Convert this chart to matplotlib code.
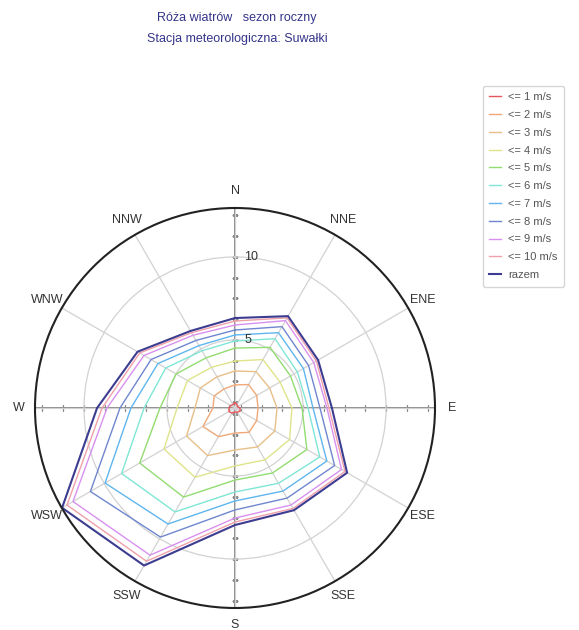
import numpy as np
import matplotlib.pyplot as plt

plt.rcParams['font.family'] = ['Liberation Sans', 'DejaVu Sans']

# kierunki wiatru
directions = ['N', 'NNE', 'ENE', 'E', 'ESE', 'SSE', 'S', 'SSW', 'WSW', 'W', 'WNW', 'NNW']

# skumulowane czestosci dla kolejnych klas predkosci (kolejnosc jak directions)
v1 = [1.20, 1.14, 1.08, 1.20, 1.26, 1.20, 1.14, 1.26, 1.32, 1.26, 1.20, 1.14]
v2 = [2.29, 2.53, 2.41, 2.29, 2.41, 2.59, 2.41, 2.89, 3.13, 2.23, 2.35, 2.23]
v3 = [3.13, 3.43, 3.31, 3.43, 3.67, 3.61, 3.43, 4.21, 4.27, 3.31, 3.31, 3.07]
v4 = [3.73, 4.27, 4.03, 4.33, 4.70, 4.51, 4.39, 5.72, 5.84, 4.39, 4.21, 3.73]
v5 = [4.51, 5.12, 4.76, 4.94, 5.90, 5.42, 5.24, 7.10, 7.53, 5.42, 5.00, 4.39]
v6 = [4.94, 5.72, 5.24, 5.30, 6.80, 6.14, 5.96, 8.13, 8.79, 6.38, 5.72, 4.88]
v7 = [5.30, 6.14, 5.66, 5.60, 7.29, 6.68, 6.50, 8.97, 9.94, 7.17, 6.26, 5.24]
v8 = [5.60, 6.56, 6.02, 6.02, 7.83, 7.17, 7.04, 9.88, 10.96, 7.83, 6.74, 5.60]
v9 = [5.90, 6.98, 6.38, 6.44, 8.31, 7.65, 7.53, 11.14, 12.17, 8.61, 7.23, 5.96]
v10 = [6.14, 7.17, 6.56, 6.56, 8.55, 7.89, 7.77, 11.56, 12.59, 8.91, 7.53, 6.14]
razem = [6.32, 7.29, 6.68, 6.74, 8.70, 8.01, 7.95, 11.86, 12.93, 9.21, 7.68, 6.26]

labels = ['<= 1 m/s', '<= 2 m/s', '<= 3 m/s', '<= 4 m/s', '<= 5 m/s', '<= 6 m/s',
          '<= 7 m/s', '<= 8 m/s', '<= 9 m/s', '<= 10 m/s', 'razem']
colors = ['#e8555a', '#f0a878', '#e8bf88', '#dfe48a', '#92dc70', '#7fe6d6',
          '#5fb6ee', '#6f86cf', '#d890f0', '#f0a0aa', '#3c3c90']
series = [v1, v2, v3, v4, v5, v6, v7, v8, v9, v10, razem]

r_min, r_max = 0.9, 12.95
r_ticks = [5, 10]
axis_ticks = [1.25, 2.5, 3.75, 5, 6.25, 7.5, 8.75, 10, 11.25, 12.5]

theta = np.deg2rad(np.arange(len(directions)) * 30)
theta_closed = np.append(theta, theta[0])

fig = plt.figure(figsize=(5.79, 6.30), dpi=100)
ax = fig.add_axes([35/579, 22/630, 400/579, 400/630], projection='polar')
ax.set_theta_zero_location('N')
ax.set_theta_direction(-1)
ax.set_ylim(r_min, r_max)

ax.set_xticks(theta)
ax.set_xticklabels(directions, fontsize=9, color='#333333')
ax.set_xticks(np.deg2rad(np.arange(0, 360, 7.5)), minor=True)
ax.tick_params(axis='x', which='major', pad=5, length=0)
ax.tick_params(axis='x', which='minor', length=4, direction='in', color='#666666')
ax.set_yticks(r_ticks)
ax.set_yticklabels([])
ax.tick_params(axis='y', length=0)
ax.grid(color='#d2d2d2', lw=0.9)
ax.spines['polar'].set_color('#222222')
ax.spines['polar'].set_linewidth(1.5)

# osie N-S i E-W
for d in [0, 90, 180, 270]:
    t = np.deg2rad(d)
    ax.plot([t, t], [r_min, r_max], color='#8a8a8a', lw=1.4, zorder=1.5)
    ax.plot(np.full(len(axis_ticks), t), axis_ticks, ls='none',
            marker='_' if d in (0, 180) else '|', ms=4, mew=0.9,
            color='#8a8a8a', zorder=1.5)

for rv in r_ticks:
    ax.annotate(str(rv), xy=(0, rv), xytext=(6.5, 0), textcoords='offset points',
                ha='left', va='center', fontsize=9, color='#333333')

for vals, lab, col in zip(series, labels, colors):
    lw = 1.5 if lab == 'razem' else 1.0
    ax.plot(theta_closed, np.append(vals, vals[0]), color=col, lw=lw, label=lab, zorder=2)

fig.text(237/579, 1 - 18/630, 'Róża wiatrów   sezon roczny', ha='center', va='center',
         fontsize=9, color='#34348a')
fig.text(237/579, 1 - 39/630, 'Stacja meteorologiczna: Suwałki', ha='center', va='center',
         fontsize=9, color='#34348a')

leg = fig.legend(loc='upper left', bbox_to_anchor=(477/579, 1 - 80/630), fontsize=8,
                 frameon=True, fancybox=True, edgecolor='#cccccc', handlelength=1.1,
                 handletextpad=0.6, labelspacing=0.7, borderpad=0.6)
for txt in leg.get_texts():
    txt.set_color('#555555')

fig.savefig('out.png', dpi=100, facecolor='white')
